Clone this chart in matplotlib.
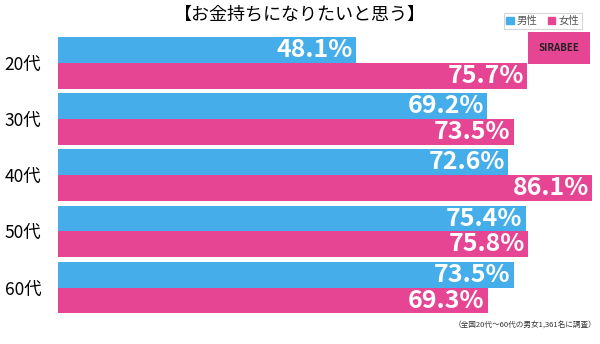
import numpy as np
import matplotlib.pyplot as plt
from matplotlib.patches import Patch

plt.rcParams['font.family'] = ['Noto Sans CJK JP', 'DejaVu Sans']

ages = ['20代', '30代', '40代', '50代', '60代']
male = [48.1, 69.2, 72.6, 75.4, 73.5]
female = [75.7, 73.5, 86.1, 75.8, 69.3]

blue = '#45AEEA'
pink = '#E64593'

fig = plt.figure(figsize=(6, 3.44), dpi=100)
ax = fig.add_axes([58/600, 30/344, 542/600, 277/344])

y = np.arange(len(ages))
h = 0.458
ax.barh(y - h/2, male, height=h, color=blue)
ax.barh(y + h/2, female, height=h, color=pink)

for i in range(len(ages)):
    ax.text(male[i] - 0.5, y[i] - h/2, f'{male[i]}%', ha='right', va='center',
            color='white', fontsize=18, fontweight='bold')
    ax.text(female[i] - 0.5, y[i] + h/2, f'{female[i]}%', ha='right', va='center',
            color='white', fontsize=18, fontweight='bold')

ax.set_xlim(0, 87.4)
ax.set_ylim(len(ages) - 1 + h + 0.01, -h)
ax.set_yticks(y)
ax.set_yticklabels(ages, fontsize=12.5)
ax.tick_params(axis='y', length=0, pad=12)
ax.set_xticks([])
for s in ax.spines.values():
    s.set_visible(False)

fig.text(0.5, 1 - 14/344, '【お金持ちになりたいと思う】', ha='center', va='center', fontsize=13)

leg = fig.legend(handles=[Patch(color=blue, label='男性'), Patch(color=pink, label='女性')],
                 loc='upper right', bbox_to_anchor=(587/600, 1 - 8/344), ncol=2,
                 fontsize=7.5, frameon=True, fancybox=False, handlelength=0.7,
                 handleheight=0.7, handletextpad=0.3, columnspacing=1.0,
                 borderpad=0.25, labelcolor='#555555')
leg.get_frame().set_edgecolor('#cccccc')
leg.get_frame().set_linewidth(0.8)

fig.text(559/600, 1 - 48/344, 'SIRABEE', ha='center', va='center', fontsize=7,
         fontweight='bold', color='#222222', fontstyle='italic',
         bbox=dict(boxstyle='square,pad=1.1', fc='#E64593', ec='none'))

fig.text(596/600, 1 - 325/344, '（全国20代～60代の男女1,361名に調査）', ha='right', va='center',
         fontsize=5.5, color='#333333')

fig.savefig('out.png', dpi=100)
